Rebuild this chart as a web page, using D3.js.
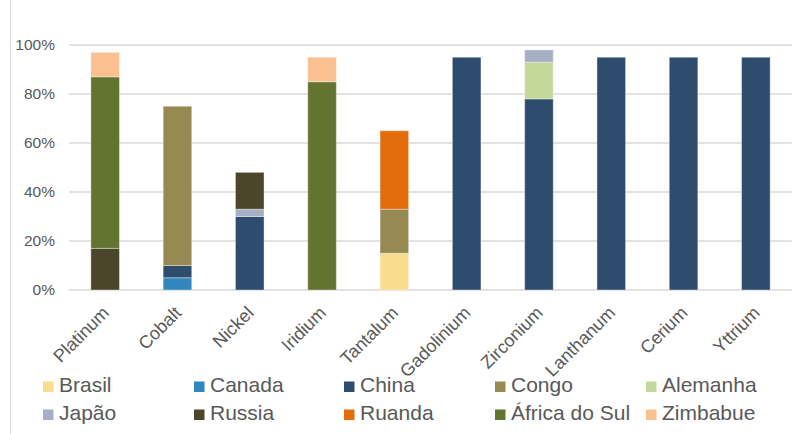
<!DOCTYPE html>
<html>
<head>
<meta charset="utf-8">
<script src="https://cdn.jsdelivr.net/npm/d3@7"></script>
<style>
  html, body { margin: 0; padding: 0; background: #fff; }
  svg { display: block; font-family: "Liberation Sans", Arial, sans-serif; }
</style>
</head>
<body>
<svg id="chart" width="792" height="434"></svg>
<script>
// Minerals (categories along the x axis)
const minerals = ["Platinum", "Cobalt", "Nickel", "Iridium", "Tantalum",
  "Gadolinium", "Zirconium", "Lanthanum", "Cerium", "Yttrium"];

// Producing countries, in stacking order (bottom to top)
const countries = ["Brasil", "Canada", "China", "Congo", "Alemanha",
  "Japão", "Russia", "Ruanda", "África do Sul", "Zimbabue"];

const countryColors = ["#F9DC8E", "#3186BE", "#2E4D6E", "#968A52", "#C5D89C",
  "#A7AFC4", "#4A452B", "#E36C0B", "#62742F", "#FAC090"];

// Share of world production (%) per country, one value per mineral
const brasil    = [0, 0, 0, 0, 15, 0, 0, 0, 0, 0];
const canada    = [0, 5, 0, 0, 0, 0, 0, 0, 0, 0];
const china     = [0, 5, 30, 0, 0, 95, 78, 95, 95, 95];
const congo     = [0, 65, 0, 0, 18, 0, 0, 0, 0, 0];
const alemanha  = [0, 0, 0, 0, 0, 0, 15, 0, 0, 0];
const japao     = [0, 0, 3, 0, 0, 0, 5, 0, 0, 0];
const russia    = [17, 0, 15, 0, 0, 0, 0, 0, 0, 0];
const ruanda    = [0, 0, 0, 0, 32, 0, 0, 0, 0, 0];
const africaSul = [70, 0, 0, 85, 0, 0, 0, 0, 0, 0];
const zimbabue  = [10, 0, 0, 10, 0, 0, 0, 0, 0, 0];

const yTicks = [0, 20, 40, 60, 80, 100];

const seriesValues = [brasil, canada, china, congo, alemanha,
  japao, russia, ruanda, africaSul, zimbabue];

// Table of rows for d3.stack
const rows = minerals.map((m, i) => {
  const r = { mineral: m };
  countries.forEach((c, k) => { r[c] = seriesValues[k][i]; });
  return r;
});

const svg = d3.select("#chart");
const plot = { left: 69, right: 792, top: 45, bottom: 290 };

const x = d3.scaleBand()
  .domain(minerals)
  .range([plot.left, plot.right])
  .paddingInner(0.605)
  .paddingOuter(0.3025);

const y = d3.scaleLinear()
  .domain([0, 100])
  .range([plot.bottom, plot.top]);

// Chart-area edge on the left
svg.append("line")
  .attr("x1", 10.5).attr("x2", 10.5)
  .attr("y1", 0).attr("y2", 434)
  .attr("stroke", "#D9D9D9").attr("stroke-width", 1);

// Horizontal gridlines
svg.append("g")
  .selectAll("line")
  .data(yTicks)
  .join("line")
  .attr("x1", plot.left).attr("x2", plot.right)
  .attr("y1", d => y(d)).attr("y2", d => y(d))
  .attr("stroke", "#D9D9D9").attr("stroke-width", 1.5);

// Y axis labels
const yAxis = d3.axisLeft(y)
  .tickValues(yTicks)
  .tickFormat(d => d + "%")
  .tickSize(0)
  .tickPadding(0);

svg.append("g")
  .attr("transform", `translate(55,0)`)
  .call(yAxis)
  .call(g => g.select(".domain").remove())
  .selectAll("text")
  .attr("fill", "#595959")
  .style("font-size", "15.5px")
  .style("font-family", "'Liberation Sans', Arial, sans-serif");

// Stacked bars
const stacked = d3.stack().keys(countries)(rows);

svg.append("g")
  .selectAll("g")
  .data(stacked)
  .join("g")
  .attr("fill", (d, i) => countryColors[i])
  .selectAll("rect")
  .data(d => d.filter(s => s[1] - s[0] > 0))
  .join("rect")
  .attr("x", d => x(d.data.mineral))
  .attr("width", x.bandwidth())
  .attr("y", d => y(d[1]))
  .attr("height", d => y(d[0]) - y(d[1]))
  .attr("stroke", "rgba(255,255,255,0.35)")
  .attr("stroke-width", 1);

// X axis labels, rotated
const xAxis = d3.axisBottom(x).tickSize(0).tickPadding(0);
svg.append("g")
  .attr("transform", `translate(0,${plot.bottom})`)
  .call(xAxis)
  .call(g => g.select(".domain").remove())
  .selectAll("text")
  .attr("fill", "#595959")
  .style("font-size", "18px")
  .style("font-family", "'Liberation Sans', Arial, sans-serif")
  .attr("text-anchor", "end")
  .attr("dy", null)
  .attr("y", 0)
  .attr("transform", "translate(5,24) rotate(-45)");

// Legend: two rows of five
const legendCols = [43, 194, 344, 495, 646];
const legendRows = [392, 420];

const legend = svg.append("g")
  .selectAll("g")
  .data(countries)
  .join("g")
  .attr("transform", (d, i) => `translate(${legendCols[i % 5]},${legendRows[Math.floor(i / 5)]})`);

legend.append("rect")
  .attr("x", 0).attr("y", -10.5)
  .attr("width", 10.5).attr("height", 10.5)
  .attr("fill", (d, i) => countryColors[i]);

legend.append("text")
  .attr("x", 16).attr("y", 0)
  .attr("fill", "#595959")
  .style("font-size", "21px")
  .text(d => d);
</script>
</body>
</html>
